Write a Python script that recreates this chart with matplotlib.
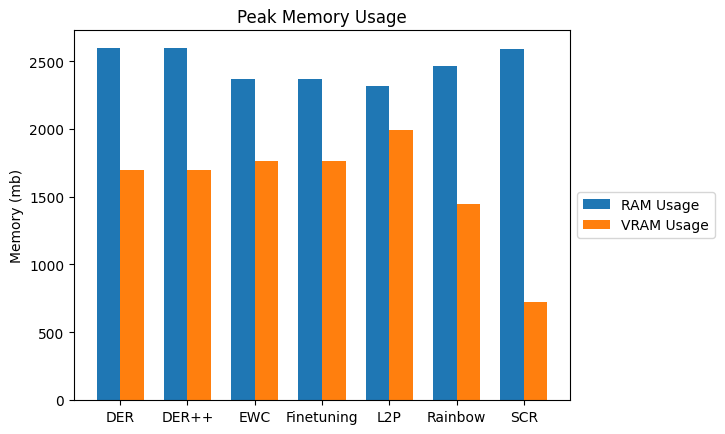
import matplotlib
matplotlib.use("Agg")
import matplotlib.pyplot as plt
import numpy as np

methods = ["DER", "DER++", "EWC", "Finetuning", "L2P", "Rainbow", "SCR"]
ram_usage = [2600, 2600, 2372, 2365, 2320, 2468, 2587]
vram_usage = [1700, 1700, 1766, 1766, 1995, 1448, 724]

fig = plt.figure(figsize=(7.25, 4.35), dpi=100)
ax = fig.add_axes([74/725, 1 - 401/435, (570-74)/725, (401-31)/435])
x = np.arange(len(methods))
w = 0.35
ax.bar(x - w/2, ram_usage, w, label="RAM Usage", color="#1f77b4")
ax.bar(x + w/2, vram_usage, w, label="VRAM Usage", color="#ff7f0e")
ax.set_xticks(x)
ax.set_xticklabels(methods)
ax.set_ylabel("Memory (mb)")
ax.set_title("Peak Memory Usage")
ax.legend(loc="center left", bbox_to_anchor=(1, 0.5))
fig.savefig("out.png", dpi=100)
